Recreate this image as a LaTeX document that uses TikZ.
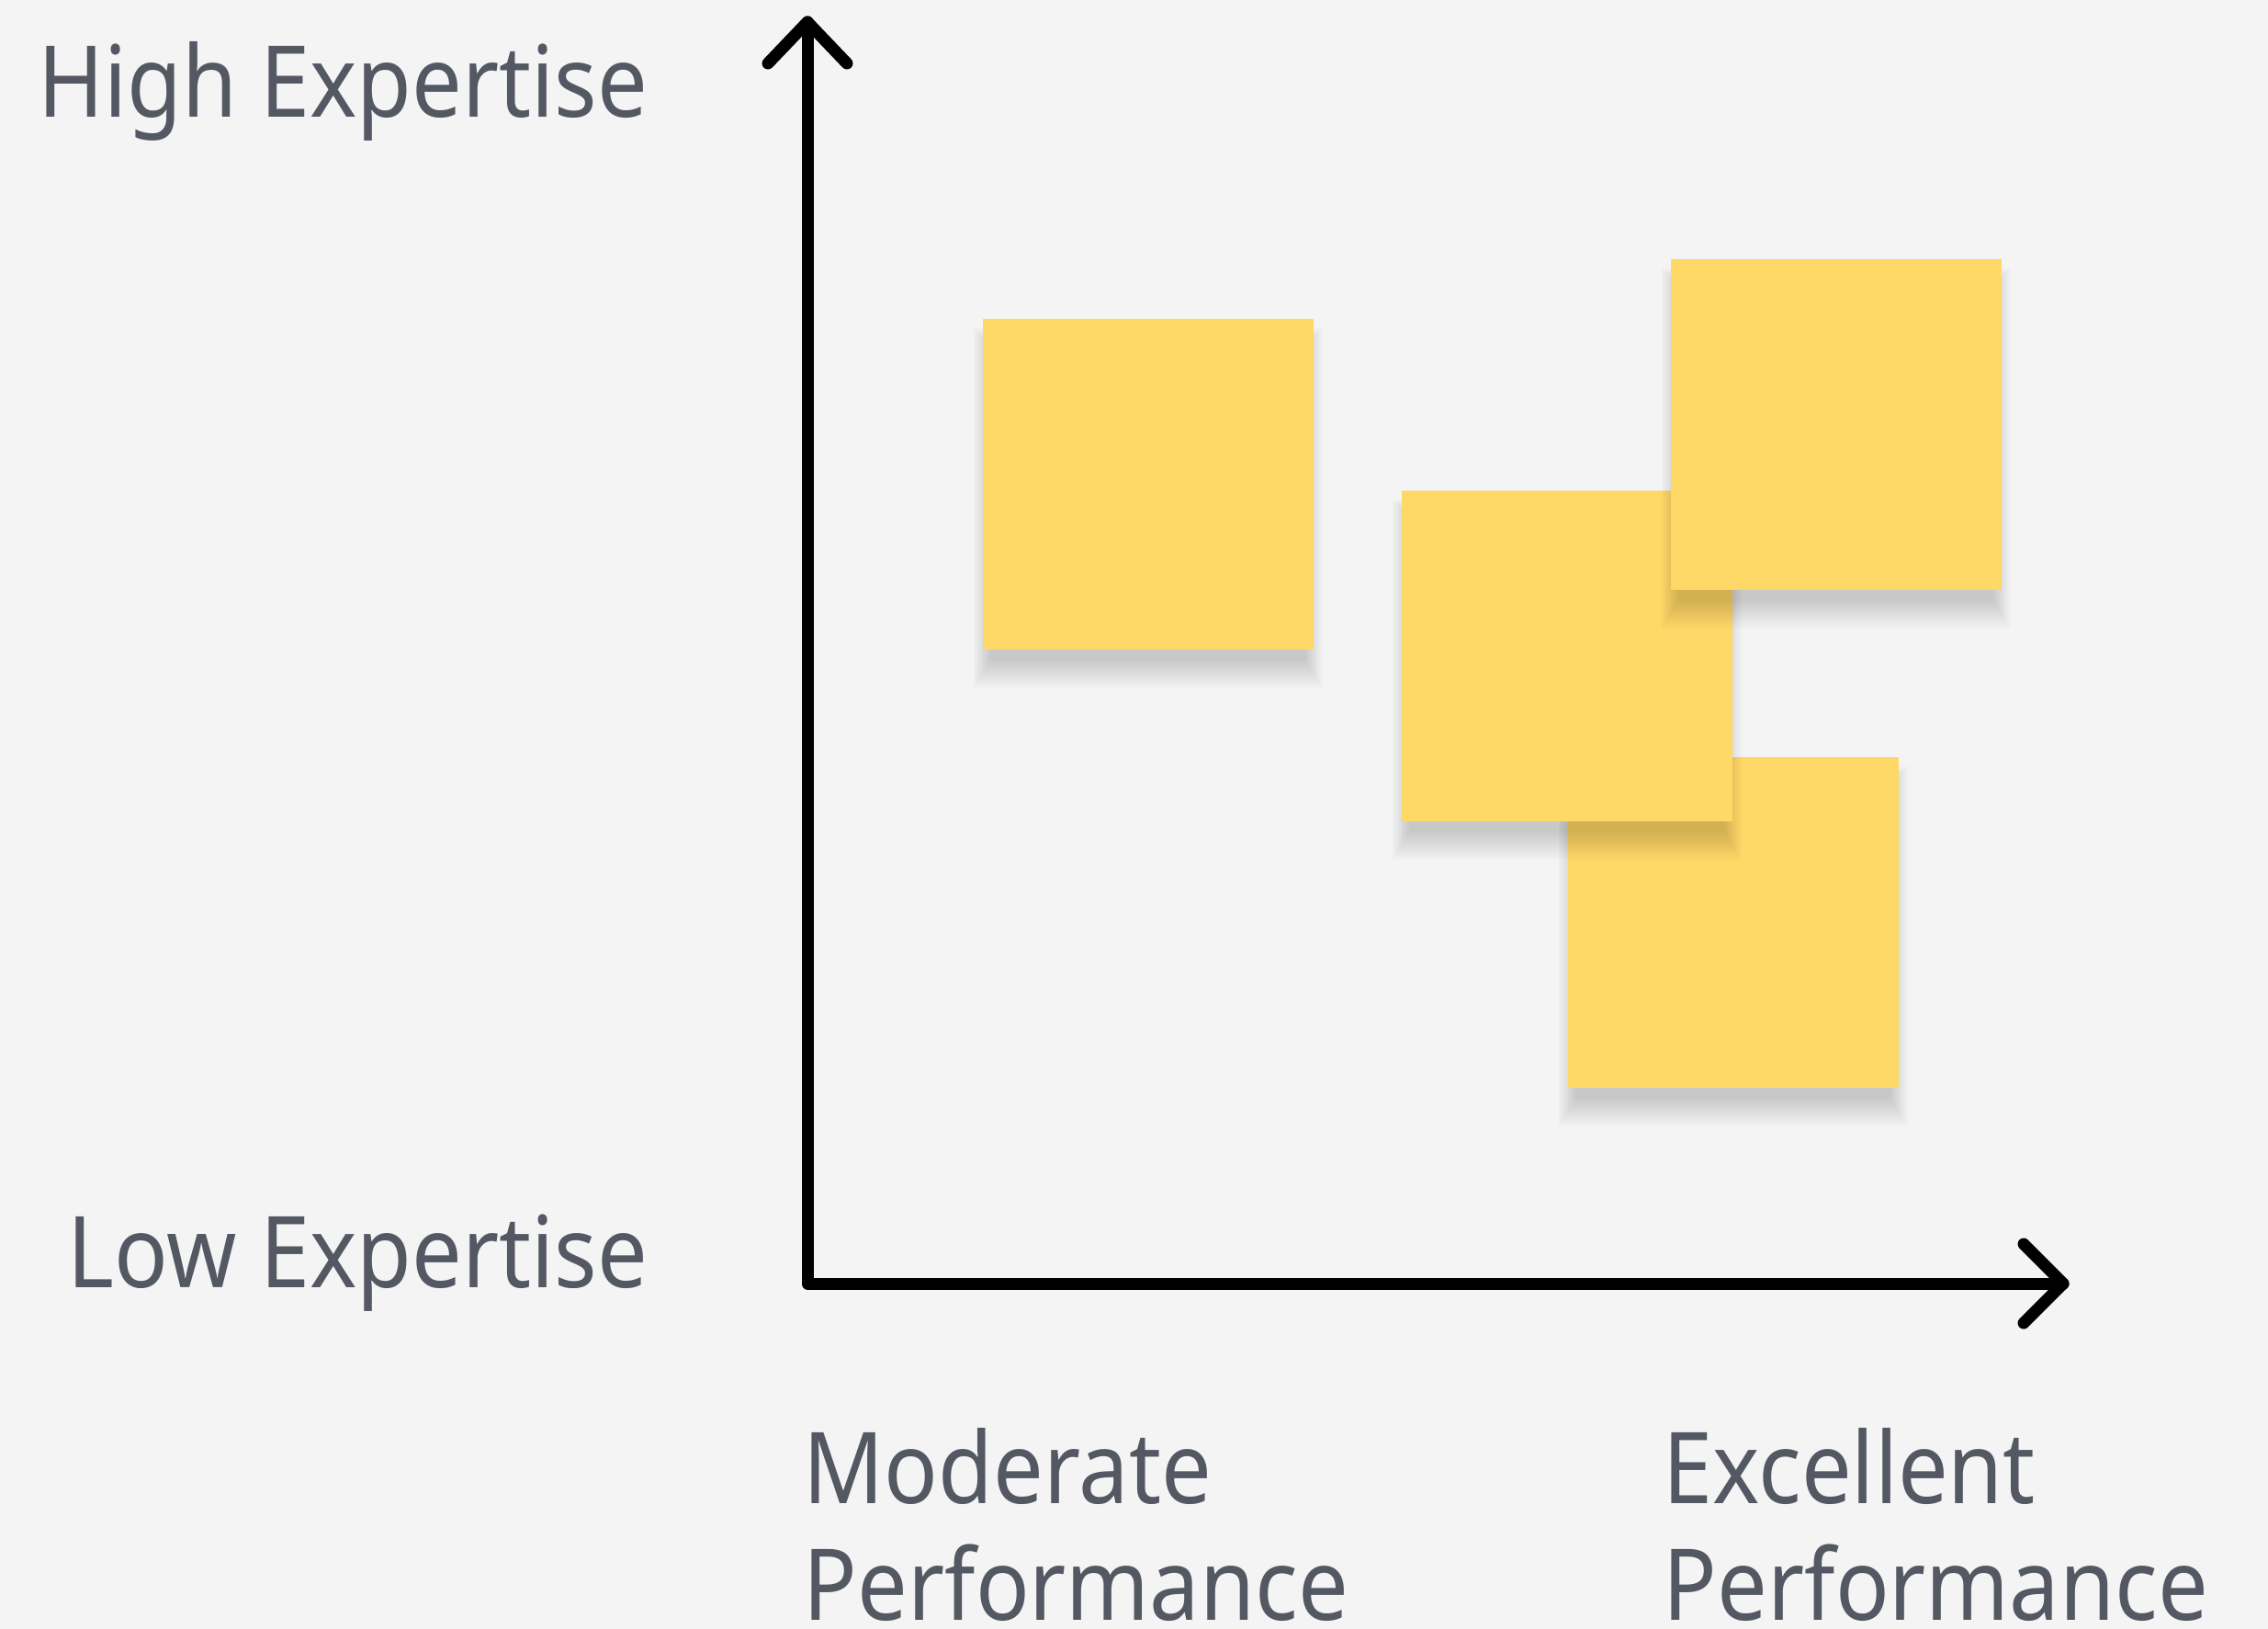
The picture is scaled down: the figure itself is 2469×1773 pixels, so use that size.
\documentclass[tikz,border=0pt]{standalone}
\usepackage{fontspec}
\setmainfont[FakeStretch=0.9]{Noto Sans}
\definecolor{bg}{RGB}{244,244,244}
\definecolor{notey}{RGB}{254,217,104}
\definecolor{labelgray}{RGB}{84,88,99}
\tikzset{
  axis/.style={line width=3.25pt, line cap=round, line join=round, black},
  note/.style={fill=notey, minimum width=90pt, minimum height=90pt, inner sep=0pt, draw=none},
  shade/.style={fill=black, fill opacity=0.014, draw=none},
  lbl/.style={text=labelgray, font=\fontsize{27}{32}\selectfont, inner sep=0pt},
}
\newcommand\dropshade[2]{%
  \foreach \s in {0,3,...,30}{%
    \fill[shade] ({#1-172-0.6*\s},{#2+20-172-0.6*\s}) rectangle ({#1+172+0.6*\s},{#2+20+172+\s});
  }%
}
\begin{document}
\begin{tikzpicture}[x=0.25pt,y=-0.25pt]
\fill[bg] (0,0) rectangle (2469,1773);
\useasboundingbox (0,0) rectangle (2469,1773);

% sticky notes
\dropshade{1249.5}{527.5}
\node[note] (n1) at (1249.5,527.5) {};
\dropshade{1886.5}{1004}
\node[note] (n4) at (1886.5,1004) {};
\dropshade{1705.5}{714}
\node[note] (n2) at (1705.5,714) {};
\dropshade{1998.5}{462.5}
\node[note] (n3) at (1998.5,462.5) {};

% axes
\coordinate (ytip) at (879,24);
\coordinate (origin) at (879,1397);
\coordinate (xtip) at (2246,1397);
\draw[axis] (ytip) -- (origin) -- (xtip);
\draw[axis] (ytip) ++(-43,45) -- (ytip) -- ++(43,45);
\draw[axis] (xtip) ++(-43,-43) -- (xtip) -- ++(-43,43);

% labels
\node[lbl, anchor=base east] (high) at (706,128) {High Expertise};
\node[lbl, anchor=base east] (low) at (706,1401) {Low Expertise};
\node[lbl, anchor=base west] (mod1) at (874,1636) {Moderate};
\node[lbl, anchor=base west] (mod2) at (874,1763) {Performance};
\node[lbl, anchor=base west] (exc1) at (1810,1636) {Excellent};
\node[lbl, anchor=base west] (exc2) at (1810,1763) {Performance};
\end{tikzpicture}
\end{document}
